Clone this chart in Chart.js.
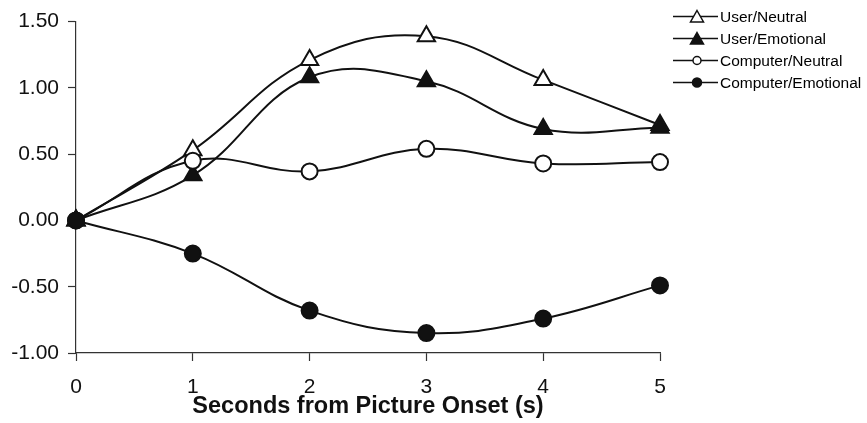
<!DOCTYPE html>
<html>
<head>
<meta charset="utf-8">
<script src="https://cdn.jsdelivr.net/npm/chart.js@4"></script>
<style>
  html, body { margin: 0; padding: 0; background: #fff; }
  #wrap { width: 867px; height: 423px; }
</style>
</head>
<body>
<div id="wrap"><canvas id="chart" width="867" height="423"></canvas></div>
<script>
var seconds = ["0", "1", "2", "3", "4", "5"];
var userNeutral = [0, 0.53, 1.21, 1.39, 1.06, 0.72];
var userEmotional = [0, 0.34, 1.08, 1.05, 0.69, 0.70];
var computerNeutral = [0, 0.45, 0.37, 0.54, 0.43, 0.44];
var computerEmotional = [0, -0.25, -0.68, -0.85, -0.74, -0.49];
var yTicks = [-1, -0.5, 0, 0.5, 1, 1.5];

var ink = '#111';
var axisInk = '#333';
var font = 'Liberation Sans, Arial, sans-serif';

// order: later series are painted on top, as in the original
function series(label, data, style, filled, order) {
  return {
    label: label,
    data: data,
    order: order,
    borderColor: ink,
    borderWidth: 2,
    tension: 0.4,
    fill: false,
    pointStyle: style,
    pointRadius: style === 'triangle' ? 10 : 8,
    pointBorderWidth: 2,
    pointBackgroundColor: filled ? ink : '#fff',
    pointBorderColor: ink
  };
}

// legend in the top right corner: line with marker, then the label
var sideLegend = {
  id: 'sideLegend',
  afterDraw: function (chart) {
    var ctx = chart.ctx;
    ctx.save();
    chart.data.datasets.forEach(function (ds, i) {
      var y = 16.5 + i * 22;
      ctx.strokeStyle = ink;
      ctx.lineWidth = 1.6;
      ctx.beginPath(); ctx.moveTo(673, y); ctx.lineTo(718, y); ctx.stroke();
      ctx.fillStyle = ds.pointBackgroundColor;
      ctx.lineWidth = 1.5;
      ctx.beginPath();
      if (ds.pointStyle === 'triangle') {
        ctx.moveTo(697, y - 6); ctx.lineTo(703.5, y + 5.5); ctx.lineTo(690.5, y + 5.5); ctx.closePath();
      } else {
        ctx.arc(697, y, ds.pointBackgroundColor === '#fff' ? 4 : 4.5, 0, Math.PI * 2);
      }
      ctx.fill(); ctx.stroke();
      ctx.fillStyle = '#000';
      ctx.font = '15.5px ' + font;
      ctx.textBaseline = 'middle';
      ctx.textAlign = 'left';
      ctx.fillText(ds.label, 720, y + 1);
    });
    ctx.restore();
  }
};

new Chart(document.getElementById('chart').getContext('2d'), {
  type: 'line',
  data: {
    labels: seconds,
    datasets: [
      series('User/Neutral', userNeutral, 'triangle', false, 4),
      series('User/Emotional', userEmotional, 'triangle', true, 3),
      series('Computer/Neutral', computerNeutral, 'circle', false, 2),
      series('Computer/Emotional', computerEmotional, 'circle', true, 1)
    ]
  },
  plugins: [sideLegend],
  options: {
    responsive: false,
    animation: false,
    layout: { padding: { top: 2, left: 0, right: 207, bottom: 0 } },
    plugins: {
      tooltip: { enabled: false },
      legend: { display: false }
    },
    scales: {
      x: {
        offset: false,
        afterFit: function (scale) { scale.height = 70; },
        grid: { drawOnChartArea: false, color: axisInk, tickLength: 8, tickWidth: 1.2 },
        border: { color: axisInk, width: 1.2 },
        ticks: { color: '#111', font: { family: font, size: 21 }, maxRotation: 0, padding: 14 },
        title: {
          display: true,
          text: 'Seconds from Picture Onset (s)',
          color: '#111',
          font: { family: font, size: 23.5, weight: 'bold' },
          padding: { top: 0, bottom: 2 }
        }
      },
      y: {
        min: -1,
        max: 1.5,
        afterFit: function (scale) { scale.width = 76; },
        afterBuildTicks: function (scale) {
          scale.ticks = yTicks.map(function (v) { return { value: v }; });
        },
        grid: { drawOnChartArea: false, color: axisInk, tickLength: 8, tickWidth: 1.2 },
        border: { color: axisInk, width: 1.2 },
        ticks: {
          color: '#111',
          font: { family: font, size: 21 },
          padding: 9,
          callback: function (v) { return Number(v).toFixed(2); }
        }
      }
    }
  }
});
</script>
</body>
</html>
